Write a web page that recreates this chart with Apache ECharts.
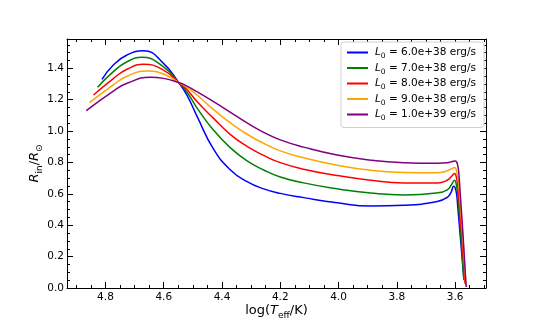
<!DOCTYPE html>
<html>
<head>
<meta charset="utf-8">
<script src="https://cdn.jsdelivr.net/npm/echarts@6/dist/echarts.min.js"></script>
<style>
  html, body { margin: 0; padding: 0; background: #fff; }
  #main { width: 540px; height: 324px; }
</style>
</head>
<body>
<div id="main"></div>
<script>
// luminosity labels (legend)
const lumLabels = ['6.0e+38', '7.0e+38', '8.0e+38', '9.0e+38', '1.0e+39']
const lineColors = ['#0000ff', '#008000', '#ff0000', '#ffa500', '#800080']

// [log Teff, R_in / R_sun]
const curve60 = [
  [4.812, 1.330], [4.773, 1.421], [4.726, 1.485], [4.669, 1.512], [4.601, 1.432],
  [4.549, 1.310], [4.520, 1.228], [4.486, 1.095], [4.429, 0.885], [4.371, 0.752],
  [4.314, 0.678], [4.257, 0.632], [4.200, 0.603], [4.120, 0.576], [4.005, 0.543],
  [3.890, 0.522], [3.776, 0.527], [3.661, 0.551], [3.627, 0.578], [3.614, 0.610],
  [3.605, 0.649], [3.597, 0.620], [3.591, 0.520], [3.570, 0.060]
]
const curve70 = [
  [4.827, 1.279], [4.773, 1.379], [4.726, 1.442], [4.675, 1.470], [4.601, 1.410],
  [4.549, 1.310], [4.520, 1.248], [4.486, 1.148], [4.429, 1.006], [4.371, 0.893],
  [4.314, 0.810], [4.257, 0.752], [4.200, 0.708], [4.120, 0.670], [4.005, 0.632],
  [3.890, 0.605], [3.776, 0.593], [3.661, 0.606], [3.627, 0.626], [3.612, 0.660],
  [3.602, 0.687], [3.595, 0.650], [3.589, 0.560], [3.570, 0.049]
]
const curve80 = [
  [4.841, 1.230], [4.773, 1.335], [4.726, 1.394], [4.669, 1.426], [4.601, 1.389],
  [4.549, 1.310], [4.520, 1.264], [4.486, 1.188], [4.429, 1.081], [4.371, 0.978],
  [4.314, 0.903], [4.257, 0.845], [4.200, 0.799], [4.120, 0.757], [4.005, 0.717],
  [3.890, 0.687], [3.776, 0.670], [3.661, 0.670], [3.627, 0.687], [3.612, 0.712],
  [3.602, 0.730], [3.595, 0.700], [3.588, 0.600], [3.566, 0.028]
]
const curve90 = [
  [4.855, 1.181], [4.773, 1.295], [4.726, 1.350], [4.658, 1.383], [4.601, 1.364],
  [4.549, 1.310], [4.520, 1.278], [4.486, 1.230], [4.429, 1.137], [4.371, 1.052],
  [4.314, 0.980], [4.257, 0.922], [4.200, 0.874], [4.120, 0.830], [4.005, 0.783],
  [3.890, 0.751], [3.776, 0.736], [3.661, 0.734], [3.627, 0.747], [3.612, 0.760],
  [3.602, 0.768], [3.594, 0.735], [3.587, 0.650], [3.563, 0.017]
]
const curve100 = [
  [4.866, 1.130], [4.773, 1.255], [4.726, 1.305], [4.646, 1.343], [4.601, 1.336],
  [4.549, 1.310], [4.520, 1.287], [4.486, 1.251], [4.429, 1.188], [4.371, 1.120],
  [4.314, 1.052], [4.257, 0.992], [4.200, 0.944], [4.120, 0.898], [4.005, 0.847],
  [3.890, 0.815], [3.776, 0.799], [3.661, 0.795], [3.627, 0.798], [3.610, 0.806],
  [3.600, 0.810], [3.592, 0.790], [3.586, 0.700], [3.562, 0.006]
]
const curves = [curve60, curve70, curve80, curve90, curve100]

const xMin = 3.494, xMax = 4.932
const yMin = 0, yMax = 1.587

const font = 'DejaVu Sans'
const subRich = {
  i: { fontFamily: font, fontSize: 10.5, fontStyle: 'italic', lineHeight: 16, color: '#000' },
  s: { fontFamily: font, fontSize: 7.5, verticalAlign: 'bottom', lineHeight: 10, color: '#000' },
  n: { fontFamily: font, fontSize: 10.5, lineHeight: 16, color: '#000' }
}
const nameRich = {
  i: { fontFamily: font, fontSize: 13, fontStyle: 'italic', lineHeight: 18, color: '#000' },
  s: { fontFamily: font, fontSize: 9, verticalAlign: 'bottom', lineHeight: 11, color: '#000' },
  n: { fontFamily: font, fontSize: 13, lineHeight: 18, color: '#000' }
}

const tickStyle = { show: true, inside: true, length: 6, lineStyle: { color: '#000', width: 1 } }
const minorStyle = { show: true, splitNumber: 4, length: 3, lineStyle: { color: '#000', width: 1 } }
const lineStyleAxis = { show: true, onZero: false, lineStyle: { color: '#000', width: 1 } }

let myChart = echarts.init(document.getElementById('main'), null, { renderer: 'canvas' })

myChart.setOption({
  animation: false,
  backgroundColor: '#fff',
  grid: { left: 67, right: 54, top: 39, bottom: 36, outerBoundsMode: 'none', containLabel: false },
  legend: {
    right: 56, top: 42, orient: 'vertical',
    backgroundColor: '#fff', borderColor: '#d0d0d0', borderWidth: 1, borderRadius: 3,
    padding: [5, 8, 5, 6], itemGap: 2,
    icon: 'rect', itemWidth: 21, itemHeight: 2,
    data: lumLabels.map((l, i) => ({ name: l, itemStyle: { color: lineColors[i] } })),
    formatter: name => '{i|L}{s|0}{n| = ' + name + ' erg/s}',
    textStyle: { rich: subRich, padding: [0, 0, 0, 2] }
  },
  xAxis: [{
    type: 'value', inverse: true, min: xMin, max: xMax, splitNumber: 7,
    position: 'bottom',
    name: '{n|log(}{i|T}{s|eff}{n|/K)}', nameLocation: 'middle', nameGap: 14,
    nameMoveOverlap: false,
    nameTextStyle: { rich: nameRich },
    axisLine: lineStyleAxis, axisTick: tickStyle, minorTick: minorStyle,
    splitLine: { show: false },
    axisLabel: { show: true, showMinLabel: false, showMaxLabel: false, margin: 4,
      fontFamily: font, fontSize: 10.5, color: '#000', formatter: v => v.toFixed(1) }
  }, {
    type: 'value', inverse: true, min: xMin, max: xMax, splitNumber: 7,
    position: 'top',
    axisLine: lineStyleAxis, axisTick: tickStyle, minorTick: minorStyle,
    splitLine: { show: false }, axisLabel: { show: false }
  }],
  yAxis: [{
    type: 'value', min: yMin, max: yMax, interval: 0.2,
    position: 'left',
    name: '{i|R}{s|in}{n|/}{i|R}{s|⊙}', nameLocation: 'middle', nameGap: 23, nameRotate: 90,
    nameMoveOverlap: false,
    nameTextStyle: { rich: nameRich },
    axisLine: lineStyleAxis, axisTick: tickStyle, minorTick: minorStyle,
    splitLine: { show: false },
    axisLabel: { show: true, showMaxLabel: false, margin: 3,
      fontFamily: font, fontSize: 10.5, color: '#000', formatter: v => v.toFixed(1) }
  }, {
    type: 'value', min: yMin, max: yMax, interval: 0.2,
    position: 'right',
    axisLine: lineStyleAxis, axisTick: tickStyle, minorTick: minorStyle,
    splitLine: { show: false }, axisLabel: { show: false }
  }],
  series: curves.map((c, i) => ({
    name: lumLabels[i],
    type: 'line',
    xAxisIndex: 0, yAxisIndex: 0,
    data: c,
    smooth: 0.5,
    showSymbol: false,
    lineStyle: { color: lineColors[i], width: 1.5 },
    itemStyle: { color: lineColors[i] }
  }))
})
</script>
</body>
</html>
